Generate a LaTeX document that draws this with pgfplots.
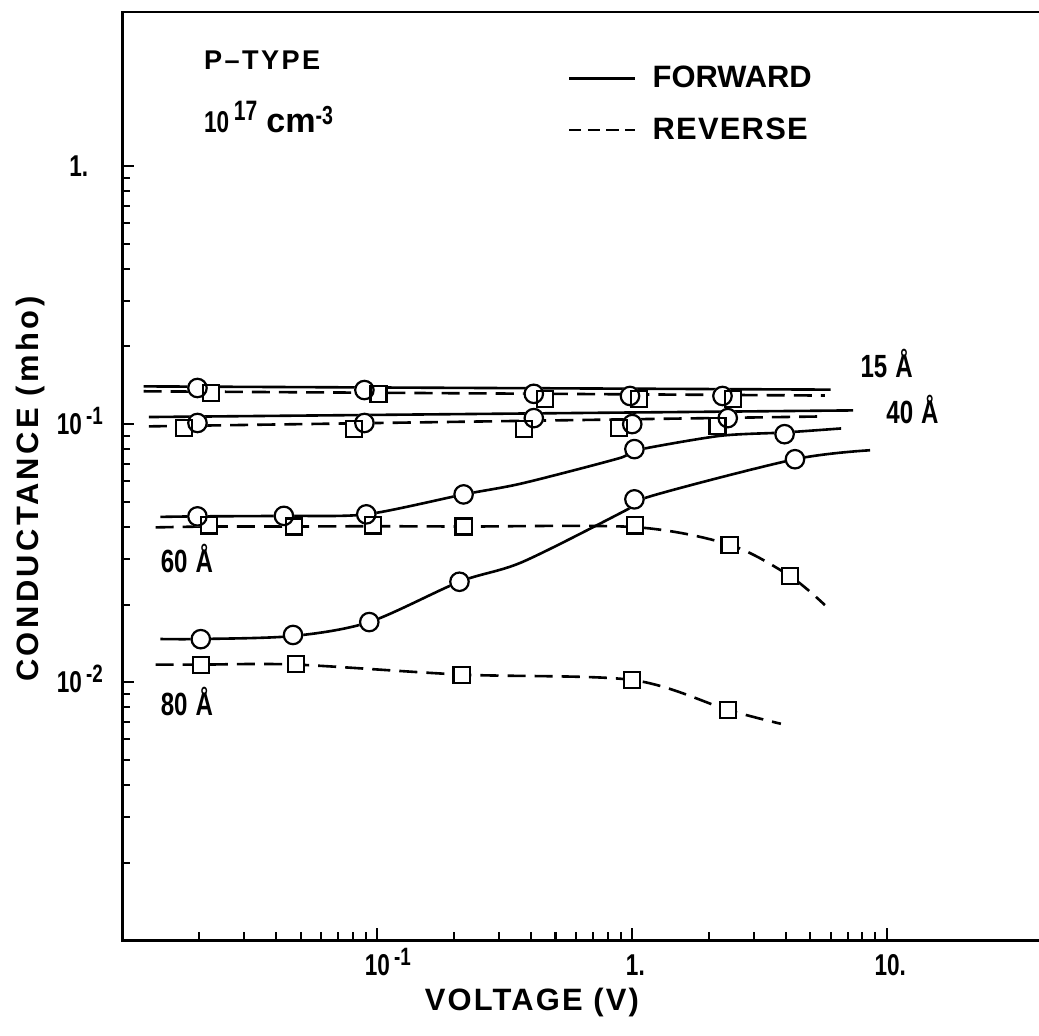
\documentclass[border=0pt]{standalone}
\usepackage{fontspec}
\setmainfont{Liberation Sans}
\newfontfamily\narrow[FakeStretch=0.75]{Liberation Sans}
\usepackage{pgfplots}
\usepackage{pgfplotstable}
\pgfplotsset{compat=1.18}

\newcommand{\nsup}[1]{\rlap{\smash{\raisebox{5pt}{\fontsize{12.5}{12.5}\selectfont\narrow\bfseries\,#1}}}}
\newcommand{\tl}[2]{{\fontsize{15}{15}\selectfont\narrow\bfseries #1\nsup{#2}}}
\newcommand{\tn}[1]{{\fontsize{15}{15}\selectfont\narrow\bfseries #1\rlap{.}}}

% ---- line tables (x = voltage, y = conductance)
\pgfplotstableread{
x y
0.0121 0.140
6.0 0.136
}\LFa
\pgfplotstableread{
x y
0.0121 0.134
5.7 0.129
}\LRa
\pgfplotstableread{
x y
0.0127 0.1065
7.35 0.113
}\LFb
\pgfplotstableread{
x y
0.0127 0.098
5.35 0.107
}\LRb
\pgfplotstableread{
x y
0.0141 0.0437
0.0197 0.0439
0.043 0.0441
0.0905 0.0447
0.218 0.0534
0.369 0.0589
0.89 0.0738
1.02 0.0790
2.2 0.0900
3.96 0.0928
6.6 0.0962
}\LFc
\pgfplotstableread{
x y
0.0135 0.0398
0.0218 0.0401
0.0471 0.0401
0.0964 0.0402
0.218 0.0401
1.024 0.0399
2.41 0.0341
4.15 0.0258
5.70 0.0199
}\LRc
\pgfplotstableread{
x y
0.0141 0.0147
0.0203 0.0147
0.0467 0.0151
0.093 0.0171
0.21 0.0245
0.37 0.0292
0.93 0.0460
1.17 0.0524
4.35 0.0731
8.57 0.0792
}\LFd
\pgfplotstableread{
x y
0.0135 0.0117
0.0203 0.0117
0.048 0.0117
0.2141 0.0107
1.0 0.0102
2.38 0.0078
3.83 0.0069
}\LRd
% ---- marker tables
\pgfplotstableread{
x y
0.0197 0.138
0.089 0.1355
0.411 0.131
0.98 0.1285
2.26 0.1285
}\MFa
\pgfplotstableread{
x y
0.0222 0.132
0.101 0.131
0.454 0.125
1.066 0.125
2.48 0.125
}\MRa
\pgfplotstableread{
x y
0.0197 0.101
0.089 0.101
0.411 0.1055
1.0 0.100
2.37 0.1055
}\MFb
\pgfplotstableread{
x y
0.0174 0.0965
0.081 0.0956
0.376 0.0956
0.889 0.0965
2.16 0.098
}\MRb
\pgfplotstableread{
x y
0.0197 0.0439
0.043 0.0441
0.0905 0.0447
0.218 0.0534
1.02 0.080
3.96 0.0914
}\MFc
\pgfplotstableread{
x y
0.0218 0.0405
0.0471 0.0401
0.0964 0.0405
0.218 0.0401
1.024 0.0405
2.41 0.0341
4.15 0.0258
}\MRc
\pgfplotstableread{
x y
0.0203 0.01468
0.0467 0.01524
0.093 0.0171
0.21 0.0245
1.02 0.0511
4.35 0.0731
}\MFd
\pgfplotstableread{
x y
0.0203 0.01164
0.048 0.01174
0.2141 0.01064
1.0 0.01018
2.38 0.00778
}\MRd

\pgfplotsset{
  knockc/.style={forget plot, only marks, mark=*, mark size=4.6pt, mark options={draw=white, fill=white, line width=1pt}},
  knocks/.style={forget plot, only marks, mark=square*, mark size=4pt, mark options={draw=white, fill=white, line width=1pt}},
  circ/.style={forget plot, only marks, mark=o, mark size=4.6pt, mark options={black, line width=1.1pt}},
  sq/.style={forget plot, only marks, mark=square, mark size=4pt, mark options={black, line width=1.1pt}},
  fwd/.style={forget plot, black, line width=1.3pt},
  rev/.style={forget plot, black, line width=1.3pt, dash pattern=on 9pt off 4.5pt},
}

\begin{document}
\begin{tikzpicture}
\begin{axis}[
  scale only axis, width=457.5pt, height=462.5pt,
  xmode=log, ymode=log,
  xmin=0.01, xmax=40, ymin=0.001, ymax=3.95,
  axis line style={line width=1.3pt},
  tick pos=left, tick align=inside,
  xtick={0.1,1,10},
  xticklabels={\tl{10}{-1},\tn{1},\tn{10}},
  minor xtick={0.02,0.03,0.04,0.05,0.06,0.07,0.08,0.09,0.2,0.3,0.4,0.5,0.6,0.7,0.8,0.9,2,3,4,5,6,7,8,9},
  ytick={0.01,0.1,1},
  yticklabels={\tl{10}{-2},\tl{10}{-1},\tn{1}},
  minor ytick={0.002,0.003,0.004,0.005,0.006,0.007,0.008,0.009,0.02,0.03,0.04,0.05,0.06,0.07,0.08,0.09,0.2,0.3,0.4,0.5,0.6,0.7,0.8,0.9},
  major tick length=6pt, minor tick length=4pt,
  every tick/.append style={line width=1pt, black},
  xticklabel style={anchor=north, inner sep=0pt, yshift=-7pt},
  yticklabel style={anchor=east, inner sep=0pt, xshift=-20pt},
  xlabel={\addfontfeature{LetterSpace=7}VOLTAGE (V)},
  xlabel style={at={(axis description cs:0.446,0)}, anchor=north, inner sep=0pt, yshift=-23.5pt,
    font=\bfseries\fontsize{15.4}{18}\selectfont},
  ylabel={\addfontfeature{LetterSpace=11}CONDUCTANCE (mho)},
  ylabel style={at={(axis description cs:-0.1005,0.486)}, anchor=center, inner sep=0pt,
    font=\bfseries\fontsize{15.4}{18}\selectfont},
  legend style={at={(rel axis cs:0.4852,0.9416)}, anchor=north west, draw=none, fill=none,
    inner sep=0pt, outer sep=0pt, row sep=13.5pt, column sep=8pt,
    font=\bfseries\fontsize{15.4}{18}\selectfont, nodes={inner sep=0pt}},
  legend cell align=left,
  legend image code/.code={\draw[#1] (0pt,0pt) -- (33pt,0pt);},
]
\addlegendimage{line width=1.2pt}
\addlegendentry{FORWARD}
\addlegendimage{line width=1.2pt, dash pattern=on 6pt off 3.3pt}
\addlegendentry{\addfontfeature{LetterSpace=4}REVERSE}

% lines
\addplot[fwd] table {\LFa};
\addplot[rev] table {\LRa};
\addplot[fwd] table {\LFb};
\addplot[rev] table {\LRb};
\addplot[fwd, smooth, tension=0.45] table {\LFc};
\addplot[rev, smooth, tension=0.5] table {\LRc};
\addplot[fwd, smooth, tension=0.5] table {\LFd};
\addplot[rev, smooth, tension=0.5] table {\LRd};

% white knock-outs under markers
\addplot[knockc] table {\MFa};
\addplot[knockc] table {\MFb};
\addplot[knockc] table {\MFc};
\addplot[knockc] table {\MFd};
\addplot[knocks] table {\MRa};
\addplot[knocks] table {\MRb};
\addplot[knocks] table {\MRc};
\addplot[knocks] table {\MRd};
% marker outlines
\addplot[circ] table {\MFa};
\addplot[circ] table {\MFb};
\addplot[circ] table {\MFc};
\addplot[circ] table {\MFd};
\addplot[sq] table {\MRa};
\addplot[sq] table {\MRb};
\addplot[sq] table {\MRc};
\addplot[sq] table {\MRd};

% annotations
\node[anchor=base west, inner sep=0pt, font=\bfseries\fontsize{13.5}{15}\selectfont] at (axis cs:0.02084,2.363) {\addfontfeature{LetterSpace=9}P–TYPE};
\node[anchor=base west, inner sep=0pt] at (axis cs:0.02084,1.344) {{\fontsize{15}{15}\selectfont\narrow\bfseries 10}\raisebox{6pt}{\fontsize{14}{14}\selectfont\narrow\bfseries\,17}\hspace{4.5pt}{\bfseries\fontsize{17}{17}\selectfont cm}\raisebox{4pt}{\fontsize{13}{13}\selectfont\narrow\bfseries -3}};
\node[anchor=base west, inner sep=0pt, font=\fontsize{16}{16}\selectfont\narrow\bfseries] at (axis cs:7.84,0.151) {15\hspace{4pt}Å};
\node[anchor=base west, inner sep=0pt, font=\fontsize{16}{16}\selectfont\narrow\bfseries] at (axis cs:9.9,0.1009) {40\hspace{4pt}Å};
\node[anchor=base west, inner sep=0pt, font=\fontsize{16}{16}\selectfont\narrow\bfseries] at (axis cs:0.0141,0.02655) {60\hspace{4pt}Å};
\node[anchor=base west, inner sep=0pt, font=\fontsize{16}{16}\selectfont\narrow\bfseries] at (axis cs:0.0141,0.00745) {80\hspace{4pt}Å};

\coordinate (SW) at (rel axis cs:0,0);
\coordinate (NE) at (rel axis cs:1,1);
\end{axis}
\pgfresetboundingbox
\useasboundingbox ([shift={(-61pt,-47.5pt)}]SW) rectangle ([shift={(-0.8pt,6pt)}]NE);
\end{tikzpicture}
\end{document}
